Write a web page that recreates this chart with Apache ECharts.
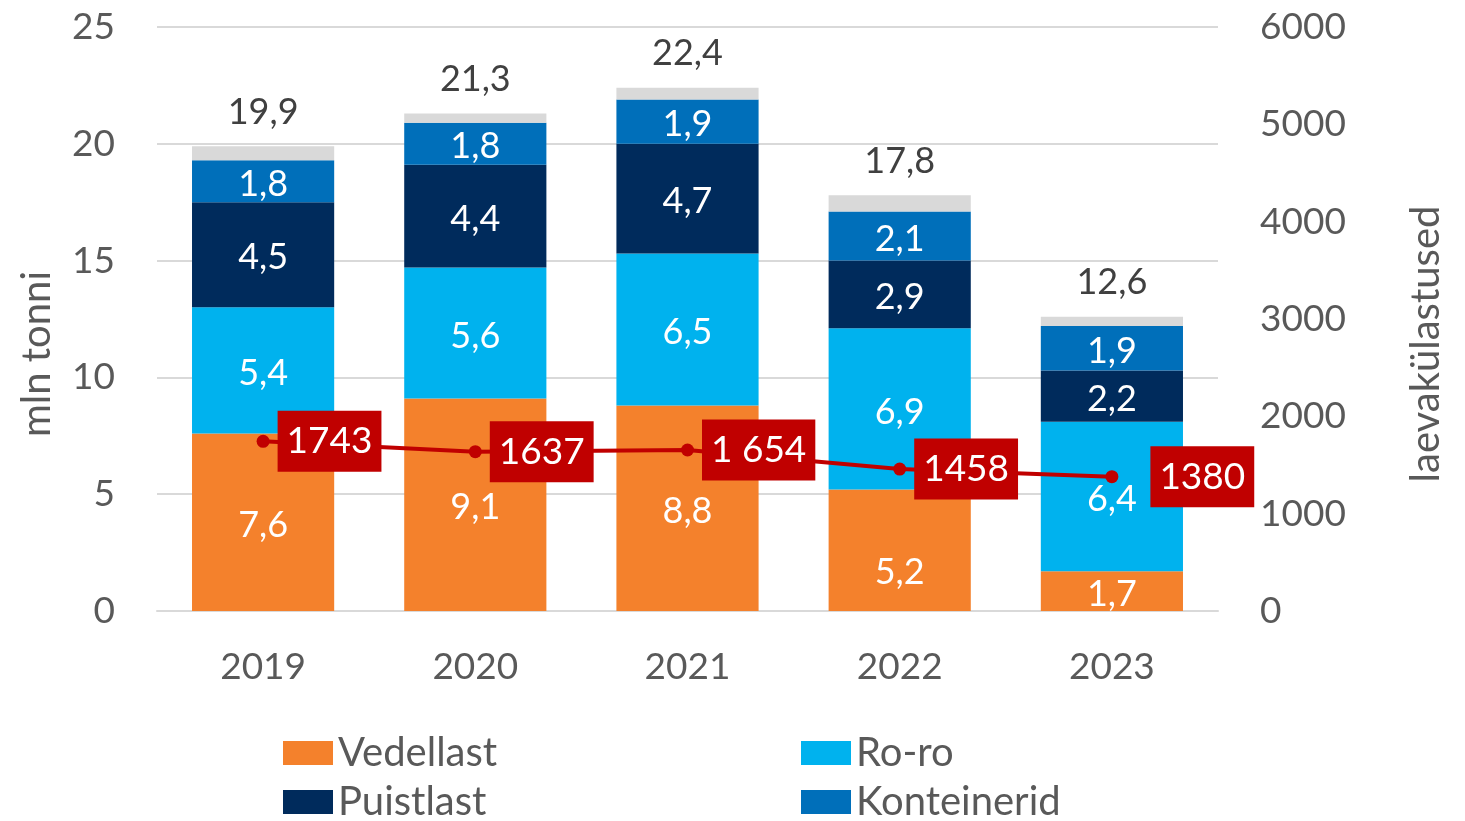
<!DOCTYPE html>
<html>
<head>
<meta charset="utf-8">
<script src="https://cdn.jsdelivr.net/npm/echarts@6/dist/echarts.min.js"></script>
<style>
  html, body { margin: 0; padding: 0; background: #fff; }
  #chart { width: 1465px; height: 821px; }
</style>
</head>
<body>
<div id="chart"></div>
<script>
const years = ["2019", "2020", "2021", "2022", "2023"];
const vedellast = [7.6, 9.1, 8.8, 5.2, 1.7];
const roro = [5.4, 5.6, 6.5, 6.9, 6.4];
const puistlast = [4.5, 4.4, 4.7, 2.9, 2.2];
const konteinerid = [1.8, 1.8, 1.9, 2.1, 1.9];
const muu = [0.6, 0.4, 0.5, 0.7, 0.4];
const totals = [19.9, 21.3, 22.4, 17.8, 12.6];
const laevakylastused = [1743, 1637, 1654, 1458, 1380];
const visitLabels = ["1743", "1637", "1 654", "1458", "1380"];

const font = "Lato";
const grey = "#595959";
const comma = (v) => String(v).replace(".", ",");

function barSeries(name, data, color, shifted) {
  return {
    name: name,
    type: "bar",
    stack: "kaup",
    barCategoryGap: "33%",
    // label moved down where it would sit under the red line label
    data: data.map((v, i) =>
      shifted === i ? { value: v, label: { offset: [0, 22] } } : v
    ),
    itemStyle: { color: color },
    label: {
      show: true,
      position: "inside",
      offset: [0, 3],
      color: "#fff",
      fontSize: 36,
      fontFamily: font,
      formatter: (p) => comma(p.value),
    },
  };
}

function legendItem(name, left, top) {
  return {
    left: left,
    top: top,
    icon: "rect",
    itemWidth: 50,
    itemHeight: 24,
    textStyle: { fontSize: 40, color: grey, fontFamily: font },
    data: [name],
  };
}

const chart = echarts.init(document.getElementById("chart"));
const option = {
  animation: false,
  textStyle: { fontFamily: font },
  grid: { left: 157, right: 247, top: 27, bottom: 210 },
  legend: [
    legendItem("Vedellast", 278, 728),
    legendItem("Puistlast", 278, 777),
    legendItem("Ro-ro", 796, 728),
    legendItem("Konteinerid", 796, 777),
  ],
  xAxis: {
    type: "category",
    data: years,
    axisTick: { show: false },
    axisLine: { lineStyle: { color: "#d9d9d9", width: 2 } },
    axisLabel: { color: grey, fontSize: 37, fontFamily: font, margin: 38 },
  },
  yAxis: [
    {
      type: "value",
      min: 0,
      max: 25,
      interval: 5,
      name: "mln tonni",
      nameLocation: "middle",
      nameRotate: 90,
      nameGap: 100,
      nameTextStyle: { color: grey, fontSize: 40, fontFamily: font, padding: [0, 70, 0, 0] },
      axisLabel: { color: grey, fontSize: 37, fontFamily: font, margin: 42 },
      splitLine: { lineStyle: { color: "#d9d9d9", width: 2 } },
    },
    {
      type: "value",
      min: 0,
      max: 6000,
      interval: 1000,
      name: "laevakülastused",
      nameLocation: "middle",
      nameRotate: 90,
      nameGap: 188,
      nameTextStyle: { color: grey, fontSize: 40, fontFamily: font, padding: [0, 50, 0, 0] },
      axisLabel: {
        color: grey,
        fontSize: 37,
        fontFamily: font,
        margin: 42,
        formatter: (v) => String(v),
      },
      splitLine: { show: false },
    },
  ],
  series: [
    barSeries("Vedellast", vedellast, "#f4812c", 3),
    barSeries("Ro-ro", roro, "#00b2ee"),
    barSeries("Puistlast", puistlast, "#002b5c"),
    barSeries("Konteinerid", konteinerid, "#006fba"),
    {
      name: "Muu",
      type: "bar",
      stack: "kaup",
      data: muu,
      itemStyle: { color: "#d9d9d9" },
      label: {
        show: true,
        position: "top",
        distance: 16,
        color: "#404040",
        fontSize: 36,
        fontFamily: font,
        formatter: (p) => comma(totals[p.dataIndex]),
      },
    },
    {
      name: "Laevakülastused",
      type: "line",
      yAxisIndex: 1,
      z: 10,
      data: laevakylastused.map((v, i) => ({
        value: v,
        label: { distance: i === 4 ? 32 : 8 },
      })),
      lineStyle: { color: "#c00000", width: 4 },
      itemStyle: { color: "#c00000" },
      symbol: "circle",
      symbolSize: 13,
      label: {
        show: true,
        position: "right",
        backgroundColor: "#c00000",
        color: "#fff",
        fontSize: 37,
        fontFamily: font,
        padding: [12, 9, 12, 9],
        formatter: (p) => visitLabels[p.dataIndex],
      },
    },
  ],
};
chart.setOption(option);
</script>
</body>
</html>
